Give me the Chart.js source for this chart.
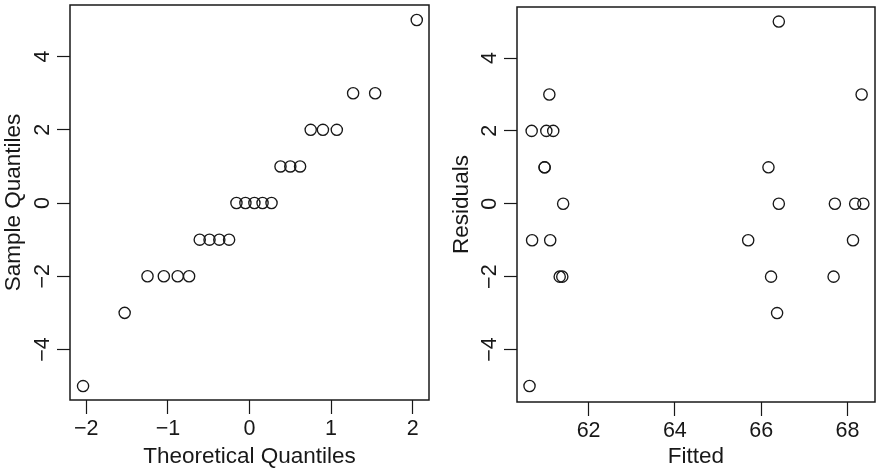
<!DOCTYPE html>
<html>
<head>
<meta charset="utf-8">
<script src="https://cdn.jsdelivr.net/npm/chart.js@4"></script>
<style>
  html, body { margin: 0; padding: 0; background: #fff; }
  #wrap { position: relative; width: 876px; height: 469px; overflow: hidden; }
  canvas { position: absolute; top: 0; }
</style>
</head>
<body>
<div id="wrap">
  <canvas id="qq" width="438" height="469" style="left:0"></canvas>
  <canvas id="rf" width="438" height="469" style="left:438px"></canvas>
</div>
<script>
// normal QQ plot of residuals
var qqTheo = [-2.04, -1.53, -1.25, -1.05, -0.88, -0.74, -0.61, -0.49, -0.37, -0.25,
              -0.16, -0.05, 0.06, 0.16, 0.27, 0.38, 0.50, 0.62, 0.75, 0.90, 1.07, 1.27, 1.54, 2.05];
var qqSample = [-5, -3, -2, -2, -2, -2, -1, -1, -1, -1, 0, 0, 0, 0, 0, 1, 1, 1, 2, 2, 2, 3, 3, 5];

// residuals vs fitted
var fitted = [60.63, 60.68, 60.69, 60.98, 60.98, 61.02, 61.09, 61.11, 61.18, 61.33, 61.39, 61.41,
              65.70, 66.17, 66.23, 66.37, 66.41, 66.41, 67.68, 67.71, 68.13, 68.18, 68.33, 68.37];
var resid = [-5, 2, -1, 1, 1, 2, 3, -1, 2, -2, -2, 0, -1, 1, -2, -3, 5, 0, -2, 0, -1, 0, 3, 0];

var qqXTicks = [-2, -1, 0, 1, 2];
var fitXTicks = [62, 64, 66, 68];
var yTicks = [-4, -2, 0, 2, 4];

var INK = '#181818';
var FONT = 'Liberation Sans, Arial, Helvetica, sans-serif';
var TICK_PX = 21.5, TITLE_PX = 22.5;

function minus(v) { return String(v).replace('-', '\u2212'); }

// R style box + rotated y tick labels
var rStyle = {
  id: 'rStyle',
  afterDraw: function(chart, args, opts) {
    var ctx = chart.ctx, a = chart.chartArea, ys = chart.scales.y;
    ctx.save();
    ctx.strokeStyle = INK;
    ctx.lineWidth = 1.5;
    ctx.strokeRect(a.left, a.top, a.right - a.left, a.bottom - a.top);
    ctx.fillStyle = INK;
    ctx.font = TICK_PX + 'px ' + FONT;
    ctx.textAlign = 'center';
    ctx.textBaseline = 'middle';
    ys.ticks.forEach(function(t) {
      var py = ys.getPixelForValue(t.value);
      ctx.save();
      ctx.translate(opts.labelX, py);
      ctx.rotate(-Math.PI / 2);
      ctx.fillText(minus(t.value), 0, 0);
      ctx.restore();
    });
    ctx.restore();
  }
};

function makeChart(id, xs, ys, cfg) {
  var pts = xs.map(function(x, i) { return {x: x, y: ys[i]}; });
  return new Chart(document.getElementById(id), {
    type: 'scatter',
    data: { datasets: [{
      data: pts,
      pointStyle: 'circle',
      pointRadius: 5.6,
      pointBorderWidth: 1.35,
      borderColor: INK,
      backgroundColor: 'rgba(0,0,0,0)',
      clip: false
    }]},
    options: {
      responsive: false,
      animation: false,
      events: [],
      layout: { padding: cfg.pad, autoPadding: false },
      plugins: {
        legend: { display: false },
        tooltip: { enabled: false },
        rStyle: { labelX: cfg.labelX }
      },
      scales: {
        x: {
          type: 'linear', min: cfg.xMin, max: cfg.xMax,
          afterBuildTicks: function(s) { s.ticks = cfg.xTicks.map(function(v) { return {value: v}; }); },
          afterFit: function(s) { s.height = cfg.xH; s.paddingLeft = 0; s.paddingRight = 0; },
          border: { display: false },
          grid: { drawOnChartArea: false, drawTicks: true, tickLength: 14, tickColor: INK, tickWidth: 1.2 },
          ticks: { color: INK, padding: 4, maxRotation: 0, autoSkip: false,
                   font: { family: FONT, size: TICK_PX, lineHeight: 1 },
                   callback: function(v) { return minus(v); } },
          title: { display: true, text: cfg.xTitle, color: INK,
                   font: { family: FONT, size: TITLE_PX, lineHeight: 1 }, padding: { top: 0, bottom: 1 } }
        },
        y: {
          type: 'linear', min: cfg.yMin, max: cfg.yMax,
          afterBuildTicks: function(s) { s.ticks = yTicks.map(function(v) { return {value: v}; }); },
          afterFit: function(s) { s.width = cfg.yW; },
          border: { display: false },
          grid: { drawOnChartArea: false, drawTicks: true, tickLength: 13, tickColor: INK, tickWidth: 1.2 },
          ticks: { display: false },
          title: { display: true, text: cfg.yTitle, color: INK,
                   font: { family: FONT, size: TITLE_PX, lineHeight: 1 }, padding: { top: cfg.yTitlePad, bottom: 0 } }
        }
      }
    },
    plugins: [rStyle]
  });
}

makeChart('qq', qqTheo, qqSample, {
  pad: { top: 5, right: 9, left: 0, bottom: 0 },
  xMin: -2.2, xMax: 2.2, yMin: -5.38, yMax: 5.41,
  xTicks: qqXTicks, xH: 69, yW: 70, labelX: 43,
  xTitle: 'Theoretical Quantiles', yTitle: 'Sample Quantiles', yTitlePad: 3
});

makeChart('rf', fitted, resid, {
  pad: { top: 7, right: 1, left: 0, bottom: 0 },
  xMin: 60.34, xMax: 68.64, yMin: -5.44, yMax: 5.40,
  xTicks: fitXTicks, xH: 67, yW: 79, labelX: 52,
  xTitle: 'Fitted', yTitle: 'Residuals', yTitlePad: 13
});
</script>
</body>
</html>
